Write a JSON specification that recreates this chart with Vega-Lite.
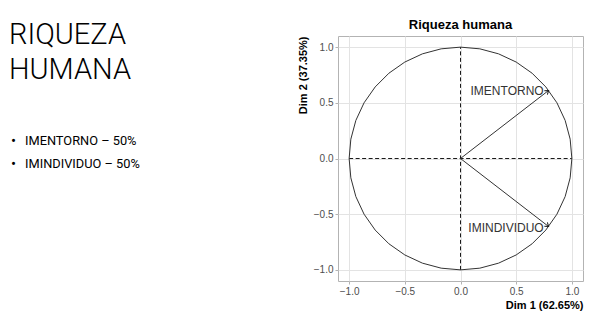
{
  "$schema": "https://vega.github.io/schema/vega-lite/v6.json",
  "padding": {"left": 0, "top": 18, "right": 6, "bottom": 0},
  "background": "white",
  "spacing": 16,
  "config": {"font": "Liberation Sans"},
  "datasets": {
    "slide": [
      {"text": "RIQUEZA", "kind": "heading", "x": 9, "y": 8},
      {"text": "HUMANA", "kind": "heading", "x": 9, "y": 43},
      {"text": "IMENTORNO – 50%", "kind": "bullet", "x": 25, "y": 109},
      {"text": "IMINDIVIDUO – 50%", "kind": "bullet", "x": 25, "y": 132}
    ],
    "vars": [
      {"variable": "IMENTORNO", "dim1": 0.7915, "dim2": 0.6112},
      {"variable": "IMINDIVIDUO", "dim1": 0.7915, "dim2": -0.6112}
    ],
    "axes0": [
      {"x": -1, "x2": 1, "y": 0, "y2": 0},
      {"x": 0, "x2": 0, "y": -1, "y2": 1}
    ],
    "circle": [
      {"i": 0, "x": 1, "y": 0}, {"i": 1, "x": 0.9848, "y": 0.1736}, {"i": 2, "x": 0.9397, "y": 0.342},
      {"i": 3, "x": 0.866, "y": 0.5}, {"i": 4, "x": 0.766, "y": 0.6428}, {"i": 5, "x": 0.6428, "y": 0.766},
      {"i": 6, "x": 0.5, "y": 0.866}, {"i": 7, "x": 0.342, "y": 0.9397}, {"i": 8, "x": 0.1736, "y": 0.9848},
      {"i": 9, "x": 0, "y": 1}, {"i": 10, "x": -0.1736, "y": 0.9848}, {"i": 11, "x": -0.342, "y": 0.9397},
      {"i": 12, "x": -0.5, "y": 0.866}, {"i": 13, "x": -0.6428, "y": 0.766}, {"i": 14, "x": -0.766, "y": 0.6428},
      {"i": 15, "x": -0.866, "y": 0.5}, {"i": 16, "x": -0.9397, "y": 0.342}, {"i": 17, "x": -0.9848, "y": 0.1736},
      {"i": 18, "x": -1, "y": 0}, {"i": 19, "x": -0.9848, "y": -0.1736}, {"i": 20, "x": -0.9397, "y": -0.342},
      {"i": 21, "x": -0.866, "y": -0.5}, {"i": 22, "x": -0.766, "y": -0.6428}, {"i": 23, "x": -0.6428, "y": -0.766},
      {"i": 24, "x": -0.5, "y": -0.866}, {"i": 25, "x": -0.342, "y": -0.9397}, {"i": 26, "x": -0.1736, "y": -0.9848},
      {"i": 27, "x": 0, "y": -1}, {"i": 28, "x": 0.1736, "y": -0.9848}, {"i": 29, "x": 0.342, "y": -0.9397},
      {"i": 30, "x": 0.5, "y": -0.866}, {"i": 31, "x": 0.6428, "y": -0.766}, {"i": 32, "x": 0.766, "y": -0.6428},
      {"i": 33, "x": 0.866, "y": -0.5}, {"i": 34, "x": 0.9397, "y": -0.342}, {"i": 35, "x": 0.9848, "y": -0.1736},
      {"i": 36, "x": 1, "y": 0}
    ]
  },
  "hconcat": [
    {
      "width": 280,
      "height": 245,
      "view": {"stroke": null},
      "data": {"name": "slide"},
      "layer": [
        {
          "transform": [{"filter": "datum.kind == 'heading'"}],
          "mark": {"type": "text", "font": "Roboto", "fontWeight": 300, "fontSize": 29, "align": "left", "baseline": "alphabetic", "color": "#000000"},
          "encoding": {
            "x": {"field": "x", "type": "quantitative", "scale": {"domain": [0, 280], "nice": false, "zero": false}, "axis": null},
            "y": {"field": "y", "type": "quantitative", "scale": {"domain": [0, 245], "nice": false, "zero": false, "reverse": true}, "axis": null},
            "text": {"field": "text", "type": "nominal"}
          }
        },
        {
          "transform": [{"filter": "datum.kind == 'bullet'"}],
          "mark": {"type": "text", "font": "Roboto", "fontSize": 12.8, "align": "left", "baseline": "alphabetic", "color": "#000000"},
          "encoding": {
            "x": {"field": "x", "type": "quantitative"},
            "y": {"field": "y", "type": "quantitative"},
            "text": {"field": "text", "type": "nominal"}
          }
        },
        {
          "transform": [{"filter": "datum.kind == 'bullet'"}],
          "mark": {"type": "text", "text": "•", "font": "Roboto", "fontSize": 15, "align": "left", "baseline": "alphabetic", "dx": -14, "dy": 1, "color": "#000000"},
          "encoding": {
            "x": {"field": "x", "type": "quantitative"},
            "y": {"field": "y", "type": "quantitative"}
          }
        }
      ]
    },
    {
      "width": 245,
      "height": 245,
      "view": {"stroke": "#b3b3b3", "strokeWidth": 1},
      "title": {"text": "Riqueza humana", "fontSize": 13, "fontWeight": "bold", "anchor": "middle", "frame": "group", "offset": 4, "color": "#000000"},
      "layer": [
        {
          "data": {"name": "axes0"},
          "mark": {"type": "rule", "strokeDash": [4, 2.5], "color": "#1a1a1a", "strokeWidth": 1},
          "encoding": {
            "x": {
              "field": "x",
              "type": "quantitative",
              "scale": {"domain": [-1.1, 1.1], "nice": false, "zero": false},
              "axis": {
                "title": "Dim 1 (62.65%)",
                "titleAnchor": "end",
                "titleFontWeight": "bold",
                "titleFontSize": 11,
                "titleColor": "#000000",
                "titlePadding": 3,
                "values": [-1, -0.75, -0.5, -0.25, 0, 0.25, 0.5, 0.75, 1],
                "labelExpr": "datum.value % 0.5 == 0 ? format(datum.value, '.1f') : ''",
                "labelFontSize": 10,
                "labelColor": "#4d4d4d",
                "labelPadding": 2,
                "tickSize": 3,
                "tickColor": "#b3b3b3",
                "domain": false,
                "grid": true,
                "gridColor": "#e3e3e3",
                "labelFlush": false
              }
            },
            "x2": {"field": "x2"},
            "y": {
              "field": "y",
              "type": "quantitative",
              "scale": {"domain": [-1.1, 1.1], "nice": false, "zero": false},
              "axis": {
                "title": "Dim 2 (37.35%)",
                "titleAnchor": "end",
                "titleFontWeight": "bold",
                "titleFontSize": 11,
                "titleColor": "#000000",
                "titlePadding": 5,
                "values": [-1, -0.75, -0.5, -0.25, 0, 0.25, 0.5, 0.75, 1],
                "labelExpr": "datum.value % 0.5 == 0 ? format(datum.value, '.1f') : ''",
                "labelFontSize": 10,
                "labelColor": "#4d4d4d",
                "labelPadding": 2,
                "tickSize": 3,
                "tickColor": "#b3b3b3",
                "domain": false,
                "grid": true,
                "gridColor": "#e3e3e3",
                "labelFlush": false
              }
            },
            "y2": {"field": "y2"}
          }
        },
        {
          "data": {"name": "circle"},
          "mark": {"type": "line", "color": "#333333", "strokeWidth": 1},
          "encoding": {
            "x": {"field": "x", "type": "quantitative"},
            "y": {"field": "y", "type": "quantitative"},
            "order": {"field": "i", "type": "quantitative"}
          }
        },
        {
          "data": {"name": "vars"},
          "mark": {"type": "rule", "color": "#333333", "strokeWidth": 1},
          "encoding": {
            "x": {"field": "dim1", "type": "quantitative"},
            "y": {"field": "dim2", "type": "quantitative"},
            "x2": {"datum": 0},
            "y2": {"datum": 0}
          }
        },
        {
          "data": {"name": "vars"},
          "transform": [{"filter": "datum.dim2 > 0"}],
          "mark": {"type": "point", "shape": "M-1,-0.7L0,0L-1,0.7", "filled": false, "size": 50, "angle": 322.3, "color": "#1a1a1a", "strokeWidth": 1, "opacity": 1},
          "encoding": {
            "x": {"field": "dim1", "type": "quantitative"},
            "y": {"field": "dim2", "type": "quantitative"}
          }
        },
        {
          "data": {"name": "vars"},
          "transform": [{"filter": "datum.dim2 < 0"}],
          "mark": {"type": "point", "shape": "M-1,-0.7L0,0L-1,0.7", "filled": false, "size": 50, "angle": 37.7, "color": "#1a1a1a", "strokeWidth": 1, "opacity": 1},
          "encoding": {
            "x": {"field": "dim1", "type": "quantitative"},
            "y": {"field": "dim2", "type": "quantitative"}
          }
        },
        {
          "data": {"name": "vars"},
          "mark": {"type": "text", "font": "Liberation Sans", "fontSize": 12, "align": "right", "baseline": "middle", "dx": -5, "dy": 1, "color": "#333333"},
          "encoding": {
            "x": {"field": "dim1", "type": "quantitative"},
            "y": {"field": "dim2", "type": "quantitative"},
            "text": {"field": "variable", "type": "nominal"}
          }
        }
      ]
    }
  ]
}
